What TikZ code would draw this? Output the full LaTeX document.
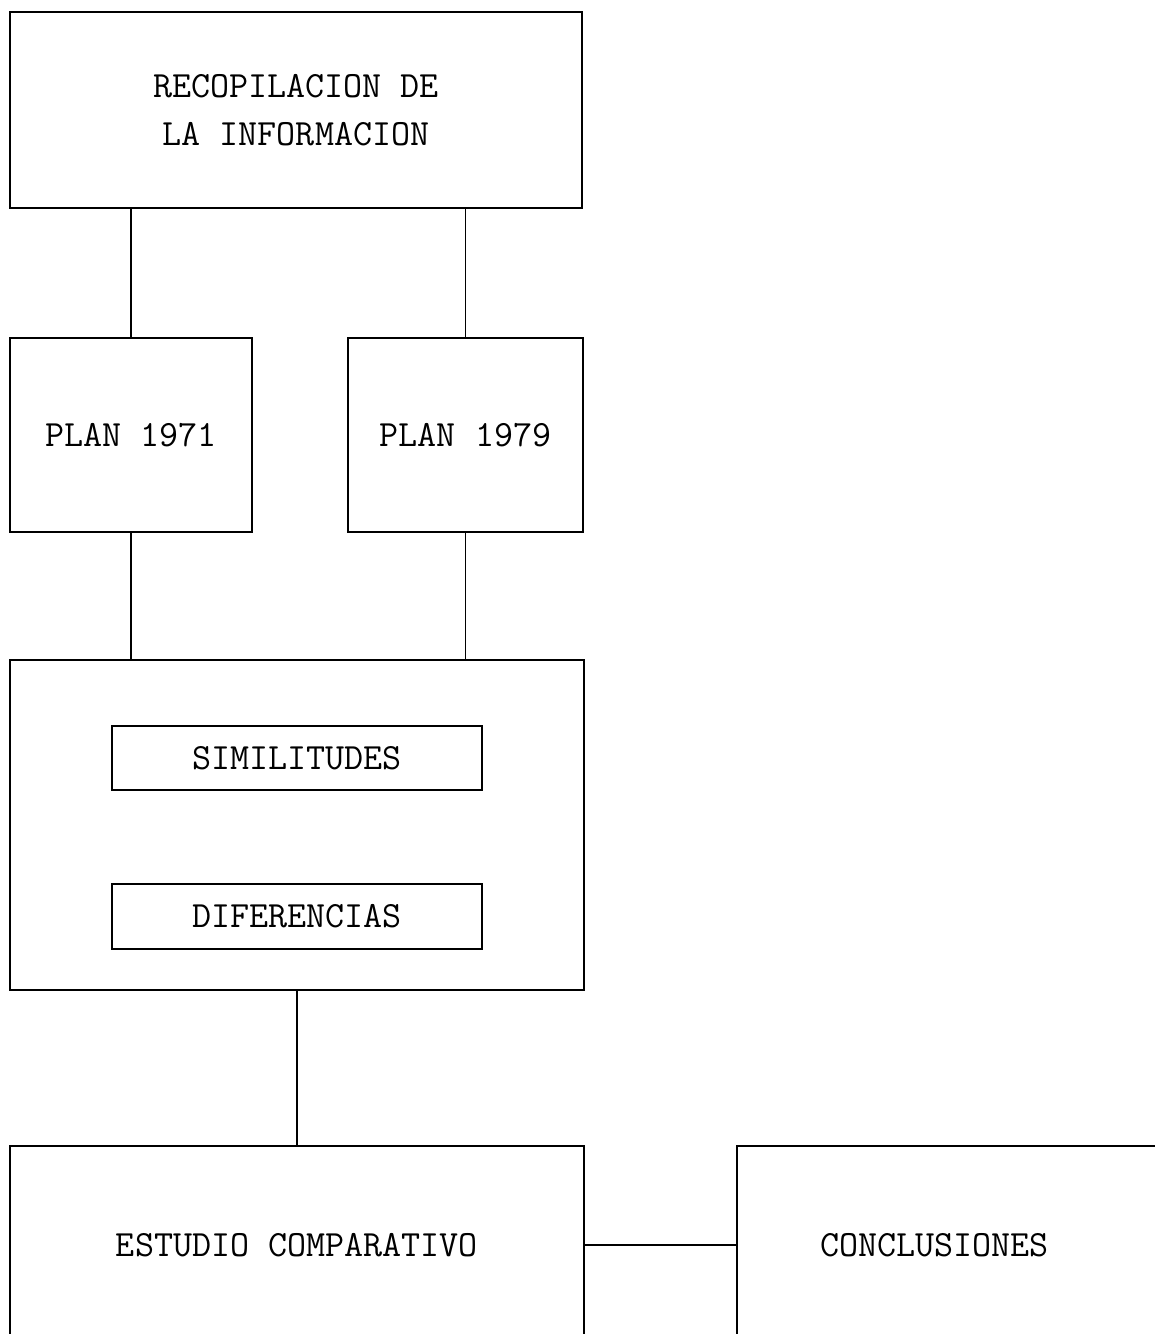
\documentclass[tikz,border=0pt]{standalone}
\usepackage{fontspec}
\usetikzlibrary{positioning}

\begin{document}
\begin{tikzpicture}[x=0.5pt, y=-0.5pt,
   box/.style={rectangle, draw, line width=0.9pt, inner sep=0pt,
      font=\ttfamily\fontsize{18.5}{24}\selectfont, align=center},
   link/.style={line width=0.9pt}]
   \useasboundingbox (0,0) rectangle (1155,1334);

   \node (recop) at (296,110) [box, minimum width=286pt, minimum height=98pt]
      {RECOPILACION DE\\LA INFORMACION};
   \node (plan71) at (131,435) [box, minimum width=121pt, minimum height=97pt] {PLAN 1971};
   \node (plan79) at (465.5,435) [box, minimum width=117.5pt, minimum height=97pt] {PLAN 1979};
   \node (compar) at (297,825) [box, minimum width=287pt, minimum height=165pt] {};
   \node (simil) at (297,758) [box, minimum width=185pt, minimum height=32pt] {SIMILITUDES};
   \node (difer) at (297,916.5) [box, minimum width=185pt, minimum height=32.5pt] {DIFERENCIAS};
   \node (estudio) at (297,1245) [box, minimum width=287pt, minimum height=99pt] {ESTUDIO COMPARATIVO};
   \node (concl) at (951,1245) [box, text width=131pt, inner xsep=41.5pt, align=left,
      minimum height=99pt] {CONCLUSIONES};

   \draw[link] (recop.south -| plan71.north) -- (plan71.north);
   \draw[link] (recop.south -| plan79.north) -- (plan79.north);
   \draw[link] (plan71.south) -- (plan71.south |- compar.north);
   \draw[link] (plan79.south) -- (plan79.south |- compar.north);
   \draw[link] (compar.south) -- (estudio.north);
   \draw[link] (estudio.east) -- (concl.west);

\end{tikzpicture}
\end{document}
